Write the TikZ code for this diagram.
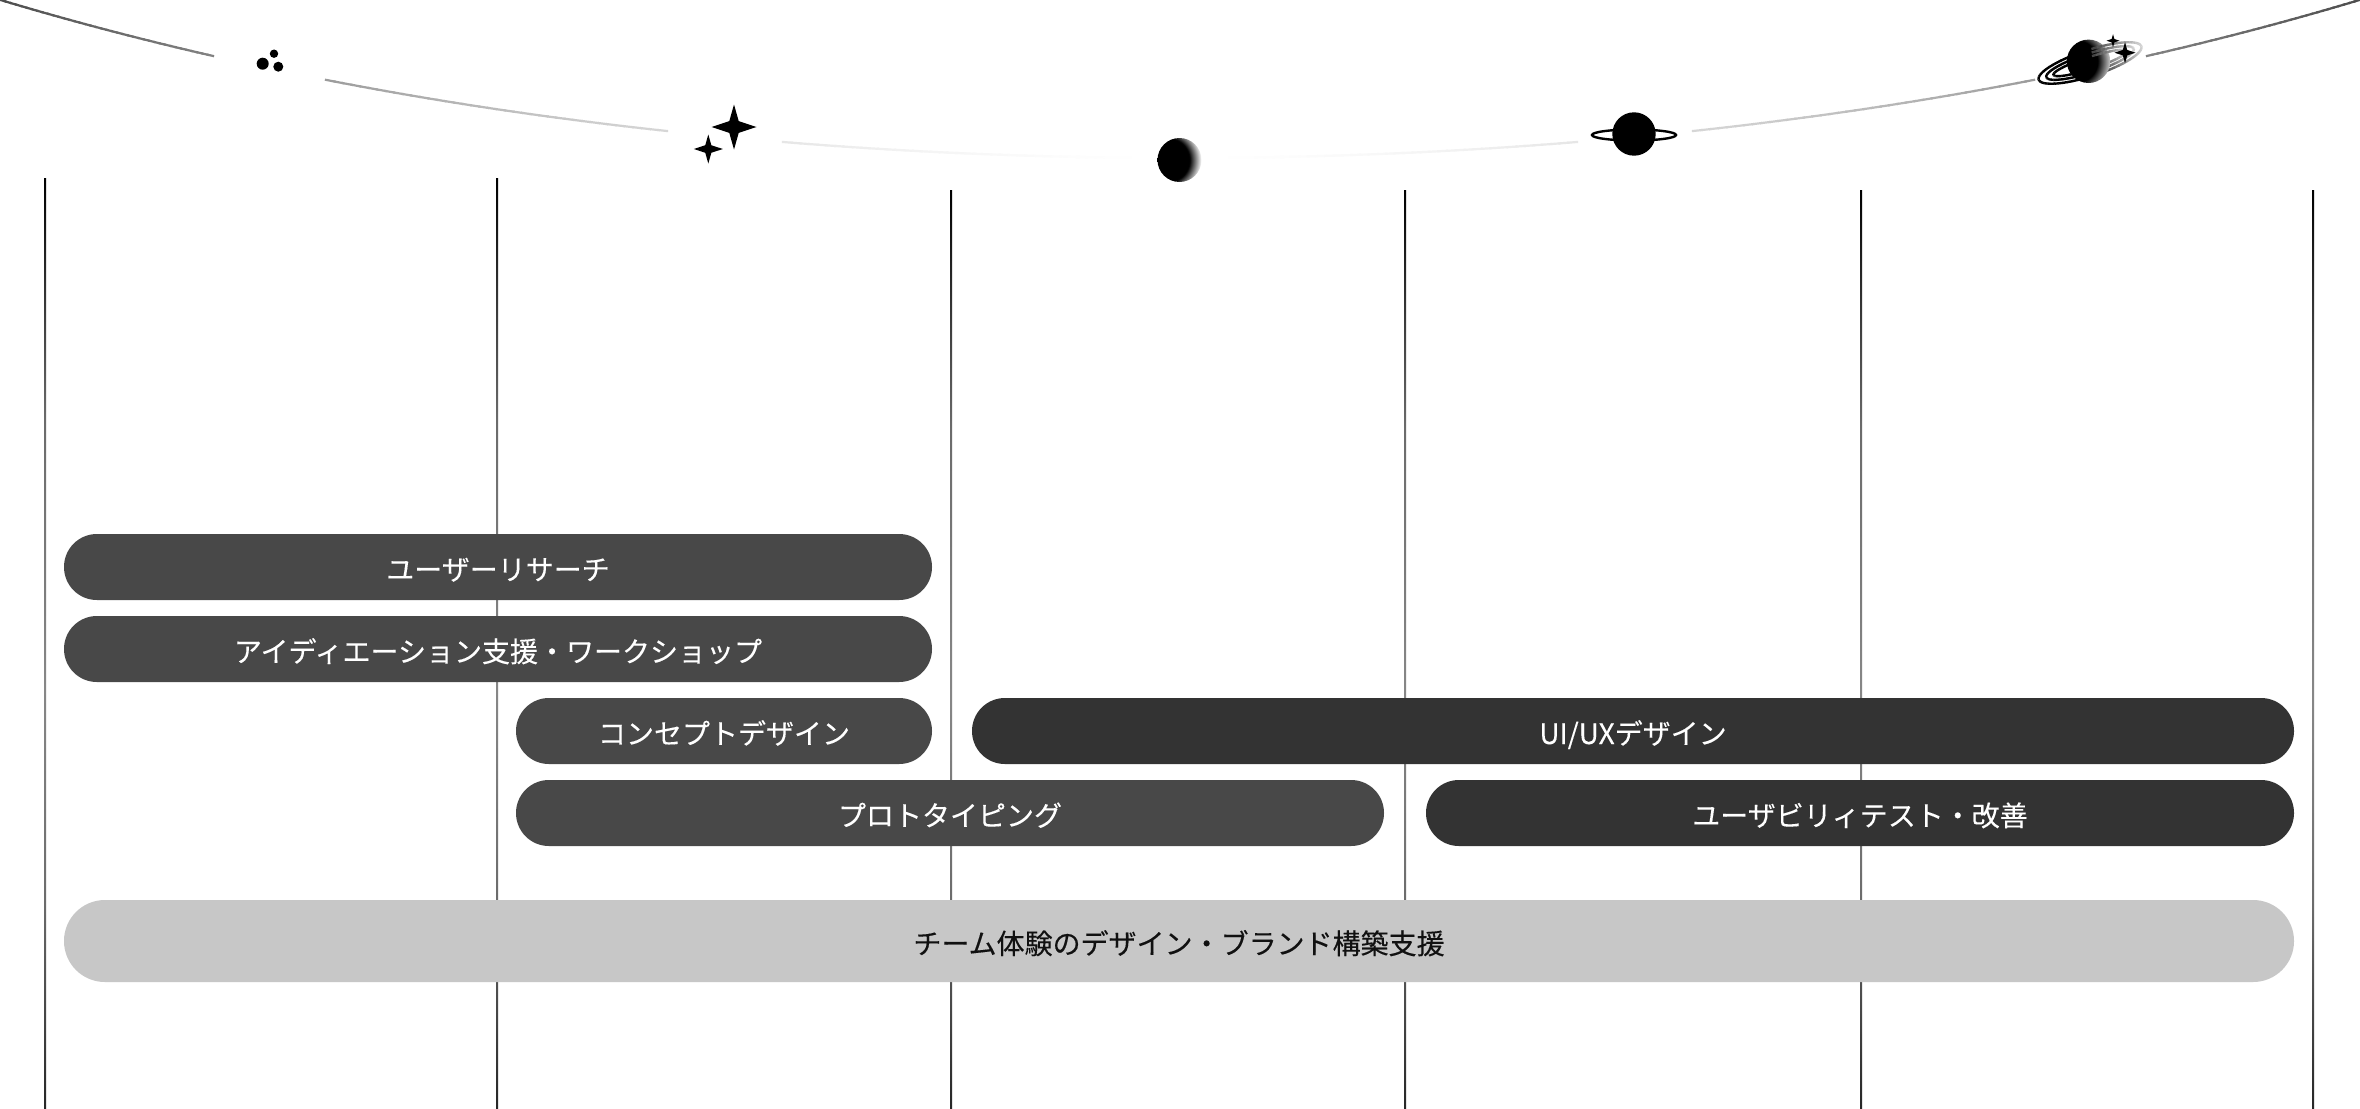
\documentclass[tikz,border=0pt]{standalone}
\usepackage{fontspec}
\setmainfont{Noto Sans CJK JP}[FakeBold=0.2]
% TikZ maps the path's bounding box onto the stops 25bp to 75bp
\pgfdeclareverticalshading{lineshade}{100bp}{color(0bp)=(black!85);color(25bp)=(black!85);color(36bp)=(black!58);color(47.5bp)=(black!47);color(62bp)=(black!58);color(75bp)=(black);color(100bp)=(black)}
\pgfdeclareradialshading{moonshade}{\pgfpointorigin}{color(0bp)=(black);color(11bp)=(black);color(17bp)=(white);color(50bp)=(white)}
\pgfdeclareradialshading{ringedshade}{\pgfpointorigin}{color(0bp)=(black);color(10.5bp)=(black);color(18.5bp)=(white);color(50bp)=(white)}
\tikzset{
  barbox/.style={rounded corners=32.9pt,inner sep=0pt,text height=26pt,text depth=0pt,
    font=\fontsize{28pt}{34pt}\selectfont,align=center},
  midbar/.style={barbox,fill=barmid,text=white,minimum height=66pt},
  darkbar/.style={barbox,fill=bardark,text=white,minimum height=66pt},
  lightbar/.style={barbox,fill=barlight,text=textdark,minimum height=82pt,rounded corners=40.9pt},
  sparkle/.pic={\fill (0,-1) -- (.21,-.26) -- (1,0) -- (.21,.26) -- (0,1) -- (-.21,.26) -- (-1,0) -- (-.21,-.26) -- cycle;}
}
\definecolor{barmid}{HTML}{484848}
\definecolor{bardark}{HTML}{333333}
\definecolor{barlight}{HTML}{C7C7C7}
\definecolor{textdark}{HTML}{111111}
% one stretch of the hanging arc, fading to white towards the middle
\newcommand\arcstretch[2]{%
  \foreach \i in {1,...,40}{%
    \pgfmathsetmacro\xa{#1+(\i-1)*(#2-#1)/40}%
    \pgfmathsetmacro\xb{#1+\i*(#2-#1)/40}%
    \pgfmathsetmacro\ua{((\xa-1180)/100)^2}%
    \pgfmathsetmacro\ub{((\xb-1180)/100)^2}%
    \pgfmathsetmacro\ya{158-\ua-0.00097*\ua*\ua}%
    \pgfmathsetmacro\yb{158-\ub-0.00097*\ub*\ub}%
    \pgfmathsetmacro\shadeval{70*(abs((\xa+\xb)/2-1180)/1180)^1.8}%
    \draw[black!\shadeval,line width=2.2pt,line cap=rect] (\xa,\ya) -- (\xb,\yb);
  }%
}
% one tilted ring of the last planet; #1 a, #2 b, #3 0 = behind the disc, 1 = in front
\newcommand\tiltring[3]{%
  \foreach \i in {0,6,...,354}{%
    \pgfmathsetmacro\aa{\i}%
    \pgfmathsetmacro\ab{\i+6.5}%
    \pgfmathsetmacro\t{cos(\i+3)}%
    \pgfmathsetmacro\front{(\t>0.15 && sin(\i+3)<0) || \t>0.6 ? 1 : 0}%
    \pgfmathsetmacro\lvl{100-82*max(0,min(1,(\t+0.25)/1.25))}%
    \pgfmathparse{int(\front)==#3 ? 1 : 0}%
    \ifnum\pgfmathresult=1
      \draw[black!\lvl,line width=2.4pt] ({#1*cos(\aa)},{#2*sin(\aa)}) -- ({#1*cos(\ab)},{#2*sin(\ab)});
    \fi
  }%
}
\begin{document}
\begin{tikzpicture}[x=1pt,y=-1pt]
\useasboundingbox (0,0) rectangle (2360,1108);
\fill[white] (0,0) rectangle (2360,1108);
% vertical rules
\shade[shading=lineshade] (44,178) rectangle (46,1108);
\shade[shading=lineshade] (496,178) rectangle (498,1108);
\shade[shading=lineshade] (950,190) rectangle (952,1108);
\shade[shading=lineshade] (1404,190) rectangle (1406,1108);
\shade[shading=lineshade] (1860,190) rectangle (1862,1108);
\shade[shading=lineshade] (2312,190) rectangle (2314,1108);
% arc
\arcstretch{0}{213}
\arcstretch{326}{667}
\arcstretch{783}{1130}
\arcstretch{1230}{1577}
\arcstretch{1693}{2034}
\arcstretch{2147}{2360}
% three dots
\fill (262.7,63.7) circle (6);
\fill (274,53.7) circle (4.2);
\fill (278.3,66.7) circle (5);
% two stars
\pic[scale=22.5] at (734,127) {sparkle};
\pic[scale=14.5] at (708.3,149) {sparkle};
% moon
\begin{scope}
  \clip (1179.5,160) circle (22);
  \shade[shading=moonshade] (1117.5,110) rectangle (1217.5,210);
\end{scope}
% ringed planet
\draw[black,line width=2.4pt] (1634,135) ellipse (42 and 5.5);
\fill (1634,134) circle (21.7);
% last planet
\begin{scope}[shift={(2090,63)},rotate=18]
  \tiltring{54}{13}{0}
  \tiltring{46}{9.5}{0}
  \tiltring{38.5}{6}{0}
\end{scope}
\begin{scope}
  \clip (2088.5,61.3) circle (21.7);
  \shade[shading=ringedshade] (2026.5,11.3) rectangle (2126.5,111.3);
\end{scope}
\begin{scope}[shift={(2090,63)},rotate=18]
  \tiltring{54}{13}{1}
  \tiltring{46}{9.5}{1}
  \tiltring{38.5}{6}{1}
\end{scope}
\pic[scale=6.5] at (2113,40.7) {sparkle};
\pic[scale=10.5] at (2125,52.7) {sparkle};
% bars
\node[midbar,minimum width=868pt] (research) at (498,567) {ユーザーリサーチ};
\node[midbar,minimum width=868pt] (ideation) at (498,649) {アイディエーション支援・ワークショップ};
\node[midbar,minimum width=416pt] (concept) at (724,731) {コンセプトデザイン};
\node[midbar,minimum width=868pt] (proto) at (950,813) {プロトタイピング};
\node[darkbar,minimum width=1322pt] (uiux) at (1633,731) {UI/UXデザイン};
\node[darkbar,minimum width=868pt] (usability) at (1860,813) {ユーザビリィテスト・改善};
\node[lightbar,minimum width=2230pt] (team) at (1179,941) {チーム体験のデザイン・ブランド構築支援};
\end{tikzpicture}
\end{document}
